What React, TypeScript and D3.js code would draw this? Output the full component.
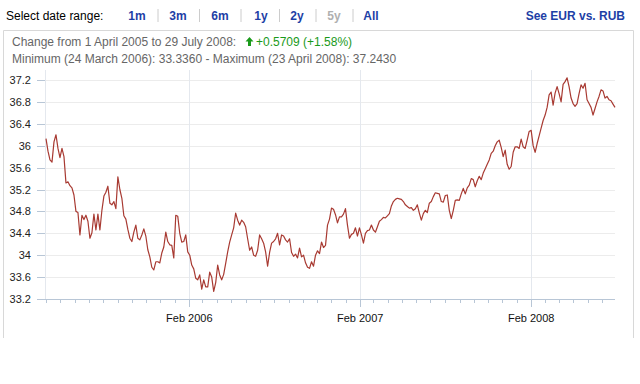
import React from "react";
import * as d3 from "d3";

const startDate = new Date(2005, 3, 1);
const endDate = new Date(2008, 6, 29);

// EUR/RUB values, evenly spaced between startDate and endDate
const rates: number[] = [
  36.13, 35.90, 35.74, 35.70, 36.07, 36.20, 35.95, 35.78, 35.95, 35.80,
  35.32, 35.34, 35.27, 35.23, 35.10, 34.80, 34.78, 34.37, 34.73, 34.65,
  34.73, 34.62, 34.31, 34.41, 34.75, 34.46, 34.75, 34.46, 34.82, 35.08,
  35.15, 35.26, 34.95, 34.92, 34.98, 34.85, 35.43, 35.20, 35.04, 34.72,
  34.66, 34.47, 34.31, 34.25, 34.42, 34.55, 34.31, 34.28, 34.37, 34.48,
  34.35, 34.10, 33.97, 33.78, 33.73, 33.88, 33.88, 33.86, 34.04, 34.15,
  34.42, 34.25, 34.19, 34.18, 33.95, 34.73, 34.71, 34.40, 34.24, 34.25,
  34.37, 34.06, 34.00, 33.82, 33.75, 33.58, 33.55, 33.64, 33.38, 33.55,
  33.42, 33.42, 33.69, 33.60, 33.34, 33.50, 33.82, 33.64, 33.55, 33.65,
  33.85, 34.06, 34.24, 34.37, 34.50, 34.77, 34.64, 34.55, 34.64, 34.60,
  34.52, 34.30, 34.09, 34.15, 34.00, 33.98, 34.09, 34.37, 34.30, 34.22,
  34.06, 33.80, 34.05, 34.22, 34.25, 34.30, 34.40, 34.19, 34.37, 34.35,
  34.28, 34.24, 34.30, 34.05, 33.98, 34.02, 33.95, 34.13, 33.97, 34.00,
  33.86, 33.78, 33.76, 33.88, 33.80, 34.00, 34.08, 34.03, 34.24, 34.14,
  34.18, 34.55, 34.66, 34.86, 34.84, 34.74, 34.59, 34.70, 34.70, 34.75,
  34.85, 34.55, 34.31, 34.38, 34.40, 34.50, 34.35, 34.50, 34.37, 34.22,
  34.40, 34.45, 34.46, 34.55, 34.46, 34.42, 34.52, 34.62, 34.65, 34.69,
  34.68, 34.72, 34.76, 34.90, 34.98, 35.02, 35.04, 35.03, 35.02, 34.98,
  34.92, 34.89, 34.86, 34.87, 34.82, 34.85, 34.92, 34.77, 34.64, 34.76,
  34.82, 34.78, 34.95, 34.98, 35.07, 35.14, 35.13, 35.12, 34.98, 34.97,
  35.09, 35.10, 34.82, 34.67, 34.82, 35.00, 35.01, 35.00, 35.12, 35.22,
  35.12, 35.23, 35.28, 35.40, 35.38, 35.25, 35.36, 35.44, 35.38, 35.50,
  35.58, 35.66, 35.74, 35.86, 35.90, 36.00, 36.07, 36.10, 35.97, 35.80,
  35.92, 35.66, 35.57, 35.62, 35.88, 35.98, 35.98, 35.95, 36.12, 35.98,
  35.95, 36.10, 36.26, 36.28, 36.00, 35.88, 36.04, 36.18, 36.32, 36.46,
  36.56, 36.70, 36.93, 36.98, 36.74, 36.96, 37.08, 36.95, 36.80, 37.12,
  37.17, 37.24, 37.08, 36.87, 36.77, 36.72, 36.77, 36.95, 37.11, 37.05,
  37.14, 36.84, 36.77, 36.70, 36.56, 36.68, 36.80, 36.90, 37.02, 37.00,
  36.87, 36.90, 36.84, 36.82, 36.76, 36.70,
];

const yTicks: number[] = [33.2, 33.6, 34, 34.4, 34.8, 35.2, 35.6, 36, 36.4, 36.8, 37.2];
const xLabelDates: Date[] = [new Date(2006, 1, 1), new Date(2007, 1, 1), new Date(2008, 1, 1)];
const rangeLinks: string[] = ["1m", "3m", "6m", "1y", "2y", "5y", "All"];
const rangeLinkX: number[] = [137, 178, 220, 261, 297, 334, 371];
const disabledLink = "5y";
const changeText = "Change from 1 April 2005 to 29 July 2008:";
const changeValue = "+0.5709 (+1.58%)";
const minMaxText = "Minimum (24 March 2006): 33.3360 - Maximum (23 April 2008): 37.2430";

const FONT = "Arial, 'Liberation Sans', sans-serif";
const BLUE = "#1e3fa6";

export default function App() {
  const W = 640, H = 384;
  const plotLeft = 45, plotRight = 615, plotTop = 70, plotBottom = 299;

  const x = d3.scaleTime().domain([startDate, endDate]).range([46, 615]);
  const y = d3.scaleLinear().domain([33.2, 37.2]).range([299, 80]);

  const n = rates.length;
  const t0 = startDate.getTime(), t1 = endDate.getTime();
  const data = rates.map((v, i) => ({ date: new Date(t0 + (i * (t1 - t0)) / (n - 1)), v }));

  const line = d3.line<{ date: Date; v: number }>().x((d) => x(d.date)).y((d) => y(d.v));

  const months = d3.timeMonth.range(startDate, endDate);
  const fmt = (v: number) => String(+v.toFixed(1));

  return (
    <div style={{ position: "absolute", left: 0, top: 0 }}>
      <svg width={W} height={H} style={{ display: "block", background: "#fff" }} fontFamily={FONT}>
        {/* header */}
        <text x={6} y={19.5} fontSize={12} fill="#000">Select date range:</text>
        {rangeLinks.map((l, i) => (
          <text key={l} x={rangeLinkX[i]} y={19.5} fontSize={12} fontWeight="bold" textAnchor="middle"
            fill={l === disabledLink ? "#b0b0b0" : BLUE}>
            {l}
          </text>
        ))}
        {rangeLinkX.slice(0, -1).map((lx, i) => {
          const sx = (lx + rangeLinkX[i + 1]) / 2;
          return <line key={i} x1={sx + 0.5} x2={sx + 0.5} y1={9} y2={22} stroke="#cccccc" />;
        })}
        <text x={625} y={19.5} fontSize={12} fontWeight="bold" textAnchor="end" fill={BLUE}>See EUR vs. RUB</text>

        {/* box */}
        <path d={`M3.5,338 V30.5 H633.5 V338`} fill="none" stroke="#d8d8d8" />

        {/* info text */}
        <text x={12} y={46} fontSize={12} fill="#666">{changeText}</text>
        <path d="M249.5,37 L253.5,41.5 L251,41.5 L251,46 L248,46 L248,41.5 L245.5,41.5 Z" fill="#1a9a1a" />
        <text x={256} y={46} fontSize={12} fill="#1a9a1a">{changeValue}</text>
        <text x={12} y={63} fontSize={12} fill="#666">{minMaxText}</text>

        {/* grid */}
        {yTicks.filter((t) => t !== 33.2).map((t) => (
          <line key={t} x1={plotLeft} x2={plotRight} y1={Math.round(y(t)) + 0.5} y2={Math.round(y(t)) + 0.5} stroke="#ececec" />
        ))}
        {xLabelDates.map((d) => (
          <line key={+d} x1={Math.round(x(d)) + 0.5} x2={Math.round(x(d)) + 0.5} y1={plotTop} y2={plotBottom} stroke="#e4e8ee" />
        ))}
        <line x1={plotLeft + 0.5} x2={plotLeft + 0.5} y1={plotTop} y2={plotBottom} stroke="#e4e8ee" />

        {/* y axis ticks + labels */}
        {yTicks.map((t) => (
          <g key={t}>
            <line x1={37} x2={45} y1={Math.round(y(t)) + 0.5} y2={Math.round(y(t)) + 0.5} stroke="#b8c6d6" />
            <text x={31} y={y(t) + 4} fontSize={11} textAnchor="end" fill="#222">{fmt(t)}</text>
          </g>
        ))}

        {/* x axis */}
        <line x1={plotLeft} x2={plotRight} y1={plotBottom + 0.5} y2={plotBottom + 0.5} stroke="#b8c6d6" />
        {months.map((m) => {
          const major = m.getMonth() === 1;
          const mx = Math.round(x(m)) + 0.5;
          return <line key={+m} x1={mx} x2={mx} y1={plotBottom} y2={plotBottom + (major ? 8 : 4)} stroke="#b8c6d6" />;
        })}
        {xLabelDates.map((d) => (
          <text key={+d} x={x(d)} y={322} fontSize={11} textAnchor="middle" fill="#111">
            {d3.timeFormat("%b %Y")(d)}
          </text>
        ))}

        {/* series */}
        <path d={line(data) || ""} fill="none" stroke="#a83a32" strokeWidth={1.2} strokeLinejoin="round" />
      </svg>
    </div>
  );
}
